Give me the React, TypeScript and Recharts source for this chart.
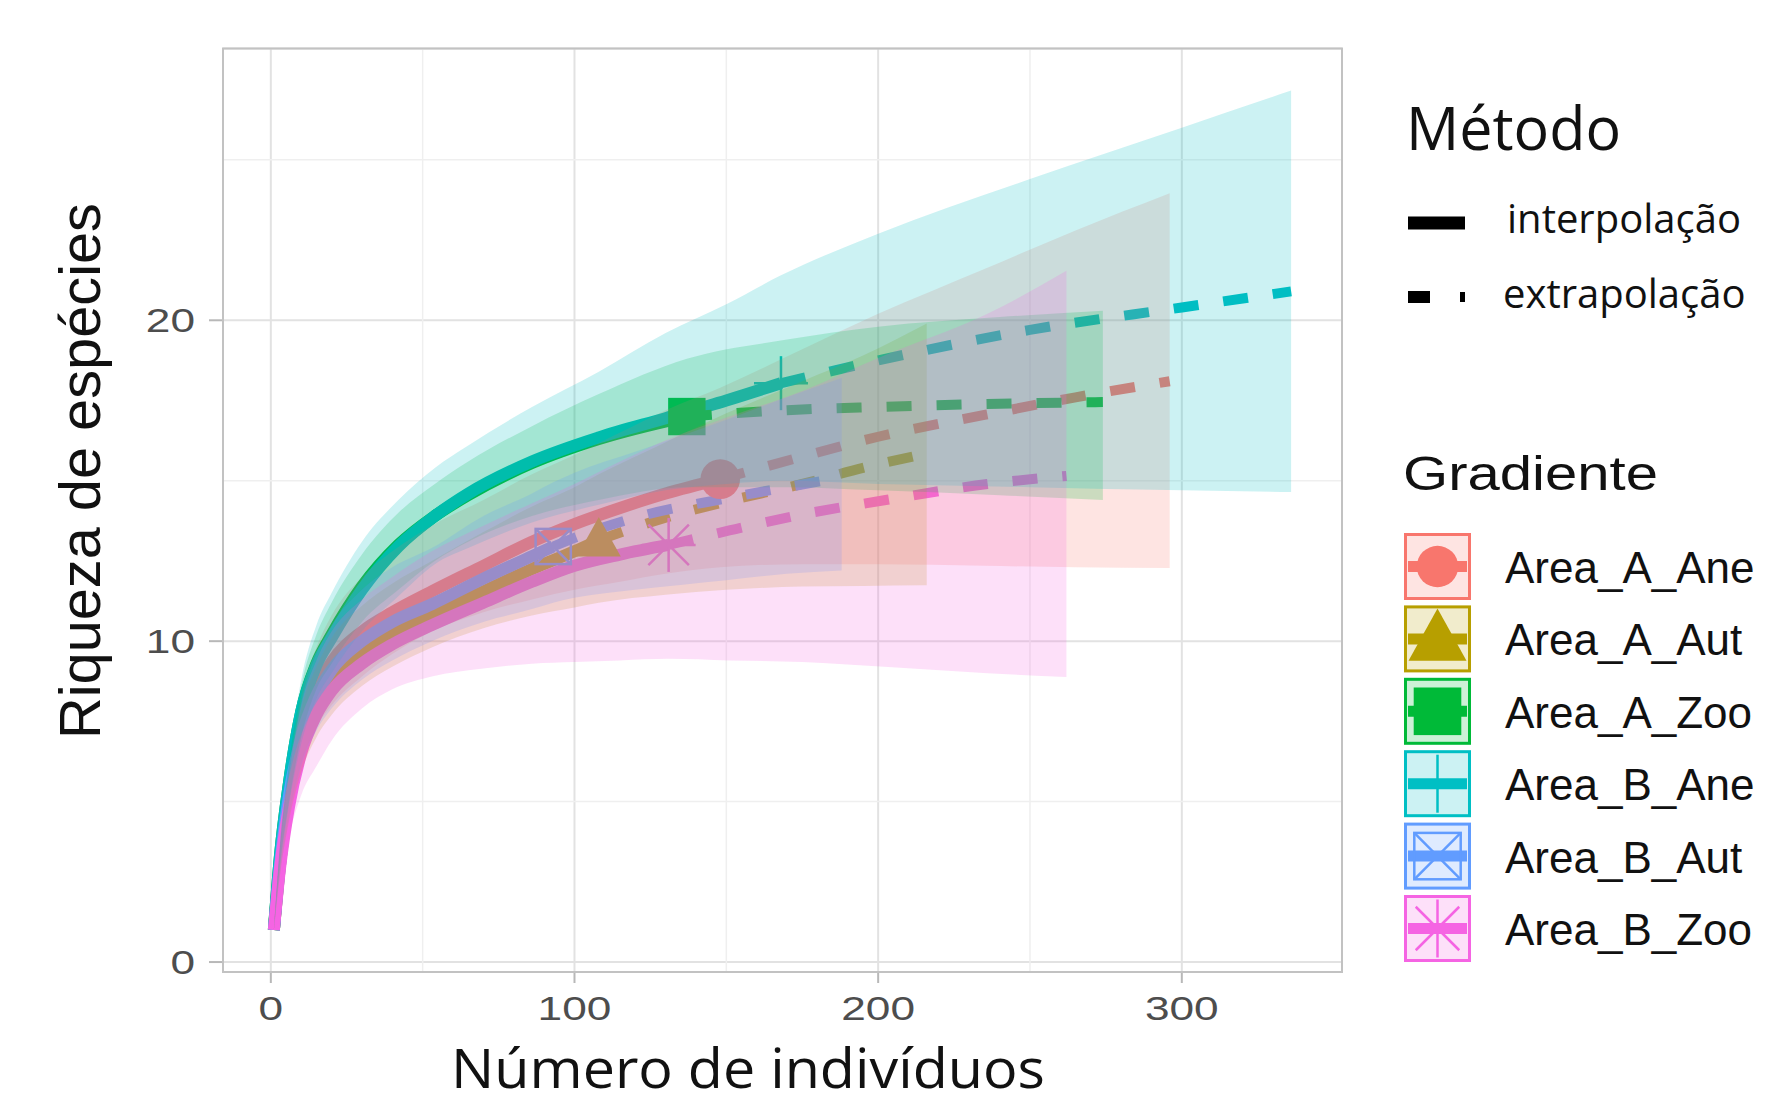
import React from 'react';
import { ComposedChart, Line, Area, Scatter, XAxis, YAxis, CartesianGrid, ReferenceLine, ReferenceArea } from 'recharts';

const groups = ['Area_A_Ane', 'Area_A_Aut', 'Area_A_Zoo', 'Area_B_Ane', 'Area_B_Aut', 'Area_B_Zoo'];
const colors = ['#F8766D', '#B79F00', '#00BA38', '#00BFC4', '#619CFF', '#F564E3'];
const shapes = ['circle', 'triangle', 'square', 'plus', 'boxcross', 'asterisk'];
const sampleSizes = [148, 108, 137, 168, 93, 131];

const xTicks = [0, 100, 200, 300];
const yTicks = [0, 10, 20];
const xMinor = [50, 150, 250];
const yMinor = [5, 15, 25];

const X_DOMAIN = [-15.75, 352.75];
const Y_DOMAIN = [-0.31, 28.47];

// Area_A_Ane
const aAneX = [1, 3, 6, 10, 15, 20, 30, 40, 53, 70, 86, 100, 115, 130, 148, 175, 200, 235, 265, 296];
const aAneEst = [1, 3.1, 5.3, 7.2, 8.5, 9.35, 10.3, 10.9, 11.55, 12.35, 13.1, 13.65, 14.15, 14.6, 15.05, 15.75, 16.37, 17.05, 17.6, 18.1];
const aAneLo = [1, 2.8, 4.6, 6.2, 7.3, 8.0, 8.9, 9.6, 10.3, 10.9, 11.3, 11.6, 11.85, 12.1, 12.3, 12.4, 12.4, 12.35, 12.3, 12.28];
const aAneHi = [1, 3.5, 6.0, 8.3, 9.8, 10.8, 12.0, 12.8, 13.6, 14.4, 15.2, 15.8, 16.5, 17.2, 17.9, 19.1, 20.2, 21.6, 22.8, 23.96];

// Area_A_Aut
const aAutX = [1, 3, 6, 10, 15, 20, 30, 40, 53, 70, 86, 100, 108, 130, 150, 175, 195, 216];
const aAutEst = [1, 3.0, 5.1, 6.9, 8.1, 8.85, 9.7, 10.25, 10.8, 11.55, 12.25, 12.8, 13.15, 13.85, 14.35, 14.9, 15.4, 15.85];
const aAutLo = [1, 2.7, 4.4, 5.9, 7.0, 7.7, 8.6, 9.2, 9.8, 10.4, 10.8, 11.05, 11.2, 11.45, 11.6, 11.7, 11.72, 11.74];
const aAutHi = [1, 3.4, 5.8, 7.9, 9.2, 10.1, 11.1, 11.8, 12.5, 13.4, 14.2, 14.8, 15.2, 16.2, 17.1, 18.1, 18.9, 19.9];

// Area_A_Zoo
const aZooX = [1, 3, 6, 10, 15, 20, 30, 42, 54, 65, 86, 108, 137, 170, 200, 240, 274];
const aZooEst = [1, 3.3, 5.6, 7.8, 9.3, 10.2, 11.7, 13.0, 13.9, 14.55, 15.55, 16.3, 17.0, 17.2, 17.3, 17.4, 17.45];
const aZooLo = [1, 3.0, 5.0, 7.0, 8.5, 9.3, 10.6, 11.6, 12.5, 13.1, 13.9, 14.4, 14.8, 14.8, 14.7, 14.55, 14.4];
const aZooHi = [1, 3.6, 6.2, 8.6, 10.2, 11.2, 12.7, 14.0, 14.9, 15.6, 16.7, 17.7, 18.8, 19.4, 19.8, 20.1, 20.3];

// Area_B_Ane
const bAneX = [1, 3, 6, 10, 15, 20, 30, 42, 54, 65, 86, 108, 130, 150, 168, 200, 250, 300, 336];
const bAneEst = [1, 3.3, 5.6, 7.8, 9.25, 10.1, 11.6, 12.95, 13.9, 14.6, 15.6, 16.35, 16.95, 17.5, 18.04, 18.75, 19.7, 20.4, 20.9];
const bAneLo = [1, 2.9, 4.9, 6.8, 8.2, 9.0, 10.3, 11.4, 12.4, 12.9, 13.7, 14.25, 14.7, 14.9, 15.0, 14.9, 14.8, 14.7, 14.65];
const bAneHi = [1, 3.7, 6.3, 8.8, 10.5, 11.5, 13.1, 14.4, 15.4, 16.1, 17.3, 18.4, 19.6, 20.5, 21.4, 22.7, 24.4, 26.0, 27.16];

// Area_B_Aut
const bAutX = [1, 3, 6, 10, 15, 20, 30, 40, 53, 70, 86, 93, 100, 120, 150, 170, 188];
const bAutEst = [1, 3.0, 5.2, 7.0, 8.3, 9.1, 10.0, 10.6, 11.15, 11.95, 12.65, 12.95, 13.22, 13.85, 14.45, 14.8, 15.1];
const bAutLo = [1, 2.7, 4.5, 6.1, 7.2, 7.9, 8.8, 9.4, 10.0, 10.6, 11.0, 11.2, 11.35, 11.6, 11.9, 12.1, 12.2];
const bAutHi = [1, 3.4, 5.9, 8.1, 9.6, 10.5, 11.6, 12.3, 12.9, 13.9, 14.6, 14.95, 15.25, 15.9, 16.9, 17.6, 18.2];

// Area_B_Zoo
const bZooX = [1, 3, 6, 10, 15, 20, 30, 40, 53, 70, 86, 100, 115, 131, 151, 175, 202, 236, 262];
const bZooEst = [1, 2.9, 4.85, 6.5, 7.7, 8.45, 9.3, 9.9, 10.5, 11.2, 11.85, 12.35, 12.7, 13.0, 13.45, 13.95, 14.39, 14.9, 15.15];
const bZooLo = [1, 2.4, 3.9, 5.2, 6.1, 6.9, 7.9, 8.5, 8.9, 9.15, 9.3, 9.35, 9.4, 9.45, 9.4, 9.35, 9.2, 9.0, 8.88];
const bZooHi = [1, 3.4, 5.8, 8.0, 9.4, 10.3, 11.3, 12.0, 12.8, 13.6, 14.3, 14.9, 15.6, 16.3, 17.0, 17.8, 18.9, 20.2, 21.54];

const seriesX = [aAneX, aAutX, aZooX, bAneX, bAutX, bZooX];
const seriesEst = [aAneEst, aAutEst, aZooEst, bAneEst, bAutEst, bZooEst];
const seriesLo = [aAneLo, aAutLo, aZooLo, bAneLo, bAutLo, bZooLo];
const seriesHi = [aAneHi, aAutHi, aZooHi, bAneHi, bAutHi, bZooHi];

const series = groups.map((name, i) => {
  const n = sampleSizes[i];
  const pts = seriesX[i].map((x, j) => ({ x, y: seriesEst[i][j], lo: seriesLo[i][j], hi: seriesHi[i][j] }));
  return {
    name,
    color: colors[i],
    kind: shapes[i],
    interp: pts.filter((p) => p.x <= n),
    extrap: pts.filter((p) => p.x >= n),
    ribbon: pts,
    point: pts.filter((p) => p.x === n),
  };
});

const Marker = ({ cx, cy, kind, color, size }: { cx: number; cy: number; kind: string; color: string; size: number }) => {
  const h = size / 2;
  const thin = 2.5;
  switch (kind) {
    case 'circle':
      return <circle cx={cx} cy={cy} r={h * 0.9} fill={color} />;
    case 'triangle':
      return <polygon points={`${cx},${cy - h * 1.05} ${cx - h},${cy + h * 0.75} ${cx + h},${cy + h * 0.75}`} fill={color} />;
    case 'square':
      return <rect x={cx - h * 0.85} y={cy - h * 0.85} width={h * 1.7} height={h * 1.7} fill={color} />;
    case 'plus':
      return (
        <g stroke={color} strokeWidth={thin}>
          <line x1={cx - h} x2={cx + h} y1={cy} y2={cy} />
          <line x1={cx} x2={cx} y1={cy - h} y2={cy + h} />
        </g>
      );
    case 'boxcross':
      return (
        <g stroke={color} strokeWidth={thin} fill="none">
          <rect x={cx - h * 0.8} y={cy - h * 0.8} width={h * 1.6} height={h * 1.6} />
          <line x1={cx - h * 0.8} y1={cy - h * 0.8} x2={cx + h * 0.8} y2={cy + h * 0.8} />
          <line x1={cx - h * 0.8} y1={cy + h * 0.8} x2={cx + h * 0.8} y2={cy - h * 0.8} />
        </g>
      );
    default:
      return (
        <g stroke={color} strokeWidth={thin}>
          <line x1={cx} x2={cx} y1={cy - h} y2={cy + h} />
          <line x1={cx - h * 0.75} y1={cy - h * 0.75} x2={cx + h * 0.75} y2={cy + h * 0.75} />
          <line x1={cx - h * 0.75} y1={cy + h * 0.75} x2={cx + h * 0.75} y2={cy - h * 0.75} />
          <line x1={cx - h} x2={cx + h} y1={cy} y2={cy} />
        </g>
      );
  }
};

const XTick = ({ x, y, payload }: any) => (
  <text transform={`translate(${x},${y + 24}) scale(1.3,1)`} textAnchor="middle" fontSize={34} fill="#4D4D4D" fontFamily="'Liberation Sans', Arial, sans-serif">
    {payload.value}
  </text>
);

const YTick = ({ x, y, payload }: any) => (
  <text transform={`translate(${x},${y + 12}) scale(1.3,1)`} textAnchor="end" fontSize={34} fill="#4D4D4D" fontFamily="'Liberation Sans', Arial, sans-serif">
    {payload.value}
  </text>
);

const KEY_TOP = 533;
const KEY_PITCH = 72.4;
const KEY_X = 1404;
const KEY_SIZE = 67;

const Overlay = () => (
  <svg width={1768} height={1104} style={{ position: 'absolute', left: 0, top: 0, pointerEvents: 'none' }}>
    <text transform="translate(100,471) rotate(-90)" textAnchor="middle" fontSize={58} fill="#111" fontFamily="'Liberation Sans', Arial, sans-serif" textLength={536} lengthAdjust="spacingAndGlyphs">
      Riqueza de espécies
    </text>
    <text x={748} y={1088} textAnchor="middle" fontSize={54} fill="#111" fontFamily="'Open Sans', sans-serif" textLength={594} lengthAdjust="spacingAndGlyphs">
      Número de indivíduos
    </text>

    <text x={1406} y={150} fontSize={60} fill="#111" fontFamily="'Open Sans', sans-serif" textLength={215} lengthAdjust="spacingAndGlyphs">
      Método
    </text>
    <rect x={1408} y={216.5} width={57} height={13} fill="#000" />
    <text x={1507} y={233} fontSize={40} fill="#111" fontFamily="'Open Sans', sans-serif">interpolação</text>
    <rect x={1408} y={291} width={22} height={12} fill="#000" />
    <rect x={1460} y={292} width={5} height={10} fill="#000" />
    <text x={1503} y={308} fontSize={40} fill="#111" fontFamily="'Open Sans', sans-serif">extrapolação</text>

    <text x={1403} y={490} fontSize={49} fill="#111" fontFamily="'Liberation Sans', Arial, sans-serif" textLength={255} lengthAdjust="spacingAndGlyphs">
      Gradiente
    </text>
    {series.map((s, i) => {
      const y0 = KEY_TOP + i * KEY_PITCH;
      const cx = KEY_X + KEY_SIZE / 2;
      const cy = y0 + KEY_SIZE / 2;
      return (
        <g key={s.name}>
          <rect x={KEY_X + 1.5} y={y0 + 1.5} width={KEY_SIZE - 3} height={KEY_SIZE - 3} fill={s.color} fillOpacity={0.2} stroke={s.color} strokeWidth={3} />
          <line x1={KEY_X + 4} x2={KEY_X + KEY_SIZE - 4} y1={cy} y2={cy} stroke={s.color} strokeWidth={11} />
          <Marker cx={cx} cy={cy} kind={s.kind} color={s.color} size={s.kind === 'circle' ? 46 : s.kind === 'square' ? 56 : 58} />
          <text x={1505} y={y0 + 50} fontSize={44} fill="#111" fontFamily="'Liberation Sans', Arial, sans-serif">
            {s.name}
          </text>
        </g>
      );
    })}
  </svg>
);

const MARGIN = { top: 48.5, right: 426, bottom: 0, left: 23 };

// the ribbons sit in a second chart stacked on top so they tint the lines, as in ggplot
const RibbonLayer = () => (
  <div style={{ position: 'absolute', left: 0, top: 0 }}>
    <ComposedChart width={1768} height={1104} margin={MARGIN}>
      <XAxis type="number" dataKey="x" domain={X_DOMAIN} ticks={xTicks} allowDataOverflow height={132} tick={false} tickLine={false} axisLine={false} />
      <YAxis type="number" domain={Y_DOMAIN} ticks={yTicks} allowDataOverflow width={200} tick={false} tickLine={false} axisLine={false} />
      {series.map((s) => (
        <Area
          key={`r-${s.name}`}
          data={s.ribbon}
          dataKey={(d: any) => [d.lo, d.hi]}
          type="monotone"
          fill={s.color}
          fillOpacity={0.2}
          stroke="none"
          activeDot={false}
          isAnimationActive={false}
        />
      ))}
      <ReferenceArea x1={X_DOMAIN[0]} x2={X_DOMAIN[1]} y1={Y_DOMAIN[0]} y2={Y_DOMAIN[1]} fill="none" stroke="#C2C2C2" strokeWidth={2} ifOverflow="visible" />
    </ComposedChart>
  </div>
);

export default function App() {
  return (
    <div style={{ position: 'absolute', left: 0, top: 0, width: 1768, height: 1104, background: '#fff' }}>
      <ComposedChart width={1768} height={1104} margin={MARGIN}>
        <CartesianGrid stroke="#E2E2E2" strokeWidth={2} />
        {xMinor.map((v) => (
          <ReferenceLine key={`xm${v}`} x={v} stroke="#EFEFEF" strokeWidth={1.5} />
        ))}
        {yMinor.map((v) => (
          <ReferenceLine key={`ym${v}`} y={v} stroke="#EFEFEF" strokeWidth={1.5} />
        ))}
        <XAxis
          type="number"
          dataKey="x"
          domain={X_DOMAIN}
          ticks={xTicks}
          allowDataOverflow
          height={132}
          tickSize={11}
          tickMargin={13}
          axisLine={false}
          tickLine={{ stroke: '#B8B8B8', strokeWidth: 2 }}
          tick={XTick}
        />
        <YAxis
          type="number"
          domain={Y_DOMAIN}
          ticks={yTicks}
          allowDataOverflow
          width={200}
          tickSize={14}
          tickMargin={14}
          axisLine={false}
          tickLine={{ stroke: '#B8B8B8', strokeWidth: 2 }}
          tick={YTick}
        />
        {series.map((s) => (
          <Line key={`i-${s.name}`} data={s.interp} dataKey="y" type="monotone" stroke={s.color} strokeWidth={12} dot={false} activeDot={false} isAnimationActive={false} />
        ))}
        {series.map((s) => (
          <Line key={`e-${s.name}`} data={s.extrap} dataKey="y" type="monotone" stroke={s.color} strokeWidth={10} strokeDasharray="25 25" dot={false} activeDot={false} isAnimationActive={false} />
        ))}
        {series.map((s) => (
          <Scatter
            key={`p-${s.name}`}
            data={s.point}
            dataKey="y"
            fill={s.color}
            isAnimationActive={false}
            shape={(p: any) => <Marker cx={p.cx} cy={p.cy} kind={s.kind} color={s.color} size={s.kind === 'plus' || s.kind === 'asterisk' ? 54 : 44} />}
          />
        ))}
      </ComposedChart>
      <RibbonLayer />
      <Overlay />
    </div>
  );
}
